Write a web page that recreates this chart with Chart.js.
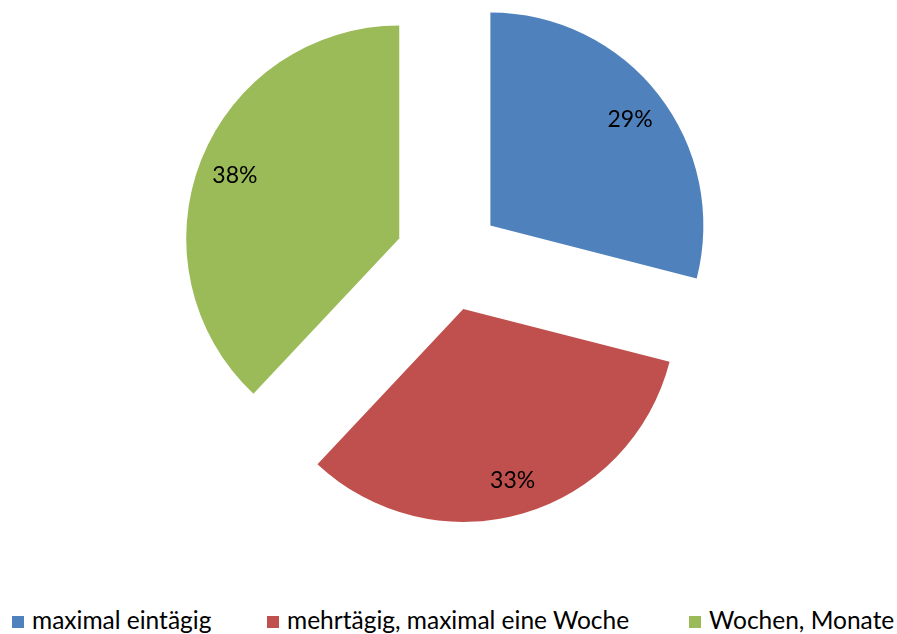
<!DOCTYPE html>
<html lang="de">
<head>
<meta charset="utf-8">
<title>Dauer</title>
<script src="https://cdn.jsdelivr.net/npm/chart.js@4/dist/chart.umd.min.js"></script>
<style>
  html, body {
    margin: 0;
    padding: 0;
    background: #ffffff;
  }
  #wrap {
    position: relative;
    width: 897px;
    height: 634px;
    overflow: hidden;
  }
  #pie {
    position: absolute;
    left: 0;
    top: 0;
  }
  #legend {
    font-family: Lato, sans-serif;
    font-size: 24.5px;
    color: #000000;
  }
  .item {
    position: absolute;
    top: 608px;
    line-height: 24px;
    white-space: nowrap;
  }
  .box {
    position: absolute;
    left: 0;
    top: 8px;
    width: 12px;
    height: 12px;
  }
  .text {
    position: absolute;
    left: 20px;
    top: 0;
  }
</style>
</head>
<body>
<div id="wrap">
  <canvas id="pie" width="897" height="600"></canvas>
  <div id="legend"></div>
</div>
<script>
'use strict';

// Data

let categories = ['maximal eintägig', 'mehrtägig, maximal eine Woche', 'Wochen, Monate'];
let shares = [29, 33, 38];
let colors = ['#4F81BD', '#C0504D', '#9BBB59'];

// Layout

let pieRadius = 213;
let explodeDistance = 53;
let labelRadius = 0.83;
let legendLeft = [12, 267, 689];

// Pull every slice outwards along its middle angle

const explodePlugin = {
  id: 'explode',
  afterDatasetsUpdate(chart, args, opts) {
    let meta = chart.getDatasetMeta(0);
    meta.data.forEach(function (arc) {
      let mid = (arc.startAngle + arc.endAngle) / 2;
      arc.x += Math.cos(mid) * opts.distance;
      arc.y += Math.sin(mid) * opts.distance;
    });
  }
};

// Percentage text inside each slice

const sliceLabels = {
  id: 'sliceLabels',
  afterDatasetsDraw(chart, args, opts) {
    let ctx = chart.ctx;
    let meta = chart.getDatasetMeta(0);
    let values = chart.data.datasets[0].data;
    ctx.save();
    ctx.font = opts.font;
    ctx.fillStyle = '#000000';
    ctx.textAlign = 'center';
    ctx.textBaseline = 'middle';
    meta.data.forEach(function (arc, i) {
      let mid = (arc.startAngle + arc.endAngle) / 2;
      let r = arc.outerRadius * opts.position;
      ctx.fillText(values[i] + '%', arc.x + Math.cos(mid) * r, arc.y + Math.sin(mid) * r + 2);
    });
    ctx.restore();
  }
};

const ctx = document.getElementById('pie').getContext('2d');
const pieChart = new Chart(ctx, {
  type: 'pie',
  data: {
    labels: categories,
    datasets: [{
      data: shares,
      backgroundColor: colors,
      borderWidth: 0,
      radius: pieRadius
    }]
  },
  options: {
    responsive: false,
    animation: false,
    layout: {
      padding: { top: 0, left: 0, right: 0, bottom: 84 }
    },
    plugins: {
      legend: { display: false },
      tooltip: { enabled: false },
      explode: { distance: explodeDistance },
      sliceLabels: { font: '23px Lato', position: labelRadius }
    }
  },
  plugins: [explodePlugin, sliceLabels]
});

// Legend below the pie

let legend = document.getElementById('legend');
for (let i = 0; i < categories.length; i++) {
  let item = document.createElement('div');
  item.className = 'item';
  item.style.left = legendLeft[i] + 'px';
  let box = document.createElement('span');
  box.className = 'box';
  box.style.background = colors[i];
  let text = document.createElement('span');
  text.className = 'text';
  text.textContent = categories[i];
  item.appendChild(box);
  item.appendChild(text);
  legend.appendChild(item);
}
</script>
</body>
</html>
